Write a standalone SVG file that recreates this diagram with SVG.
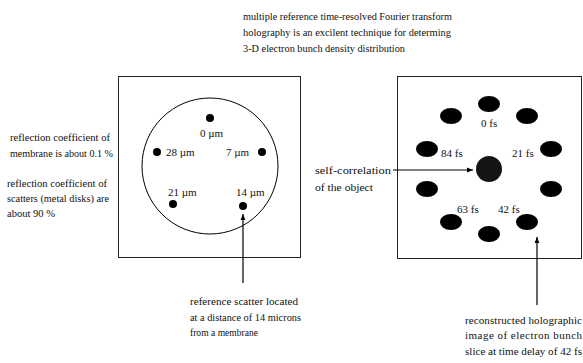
<svg xmlns="http://www.w3.org/2000/svg" width="583" height="363" viewBox="0 0 583 363">
<style>
text{font-family:"Liberation Serif","Times New Roman",serif;font-size:11px;fill:#111}
.box{fill:#fff;stroke:#222;stroke-width:1}
.dot{fill:#000}
.line{stroke:#000;stroke-width:1.2;fill:none}
</style>
<defs>
<marker id="ah" viewBox="0 0 10 10" refX="10" refY="5" markerWidth="6" markerHeight="6" orient="auto" markerUnits="userSpaceOnUse">
<path d="M0,1 L10,5 L0,9 z" fill="#000"/>
</marker>
</defs>
<rect width="583" height="363" fill="#fff"/>
<g id="title">
<text x="243" y="20" textLength="209" lengthAdjust="spacingAndGlyphs">multiple reference time-resolved Fourier transform</text>
<text x="243" y="36" textLength="208" lengthAdjust="spacingAndGlyphs">holography is an excilent technique for determing</text>
<text x="243" y="52" textLength="162" lengthAdjust="spacingAndGlyphs">3-D electron bunch density distribution</text>
</g>
<g id="left-notes">
<text x="10" y="141" textLength="100" lengthAdjust="spacingAndGlyphs">reflection coefficient of</text>
<text x="10" y="157" textLength="103" lengthAdjust="spacingAndGlyphs">membrane is about 0.1 %</text>
<text x="7" y="187" textLength="100" lengthAdjust="spacingAndGlyphs">reflection coefficient of</text>
<text x="7" y="202" textLength="102" lengthAdjust="spacingAndGlyphs">scatters (metal disks) are</text>
<text x="7" y="217" textLength="48" lengthAdjust="spacingAndGlyphs">about 90 %</text>
</g>
<g id="membrane-panel">
<rect class="box" x="118.5" y="76.5" width="182" height="181"/>
<circle cx="210" cy="166" r="68" fill="none" stroke="#000" stroke-width="1"/>
<circle class="dot" cx="210" cy="118" r="4"/>
<circle class="dot" cx="157" cy="152" r="4"/>
<circle class="dot" cx="262" cy="152" r="4"/>
<circle class="dot" cx="173" cy="204" r="4"/>
<circle class="dot" cx="243" cy="206" r="4"/>
<text x="200" y="137">0 µm</text>
<text x="166" y="156">28 µm</text>
<text x="226" y="156">7 µm</text>
<text x="168" y="196">21 µm</text>
<text x="236" y="196">14 µm</text>
</g>
<g id="hologram-panel">
<rect class="box" x="397.5" y="76.5" width="184" height="182"/>
<g class="dot">
<ellipse cx="489" cy="104" rx="11" ry="8"/>
<ellipse cx="527" cy="116" rx="11" ry="8"/>
<ellipse cx="551" cy="149" rx="11" ry="8"/>
<ellipse cx="551" cy="189" rx="11" ry="8"/>
<ellipse cx="527" cy="222" rx="11" ry="8"/>
<ellipse cx="489" cy="234" rx="11" ry="8"/>
<ellipse cx="451" cy="222" rx="11" ry="8"/>
<ellipse cx="427" cy="189" rx="11" ry="8"/>
<ellipse cx="427" cy="149" rx="11" ry="8"/>
<ellipse cx="451" cy="116" rx="11" ry="8"/>
</g>
<circle cx="489" cy="169" r="13" fill="#141414"/>
<text x="481" y="127">0 fs</text>
<text x="441" y="157">84 fs</text>
<text x="512" y="157">21 fs</text>
<text x="457" y="213">63 fs</text>
<text x="498" y="213">42 fs</text>
</g>
<g id="connectors">
<line class="line" x1="243" y1="283" x2="243" y2="214" marker-end="url(#ah)"/>
<line class="line" x1="393" y1="170" x2="473" y2="170" marker-end="url(#ah)"/>
<line class="line" x1="537" y1="305" x2="537" y2="237" marker-end="url(#ah)"/>
</g>
<g id="annotations">
<text x="315" y="174" textLength="76" lengthAdjust="spacingAndGlyphs">self-correlation</text>
<text x="315" y="191" textLength="58" lengthAdjust="spacingAndGlyphs">of the object</text>
<text x="190" y="305" textLength="108" lengthAdjust="spacingAndGlyphs">reference scatter  located</text>
<text x="190" y="321" textLength="111" lengthAdjust="spacingAndGlyphs">at a distance of 14 microns</text>
<text x="190" y="336" textLength="68" lengthAdjust="spacingAndGlyphs">from a membrane</text>
<text x="465" y="324" textLength="117" lengthAdjust="spacing">reconstructed  holographic</text>
<text x="465" y="339" textLength="117" lengthAdjust="spacing">image  of  electron  bunch</text>
<text x="465" y="355" textLength="117" lengthAdjust="spacingAndGlyphs">slice at time delay of 42 fs</text>
</g>
</svg>
